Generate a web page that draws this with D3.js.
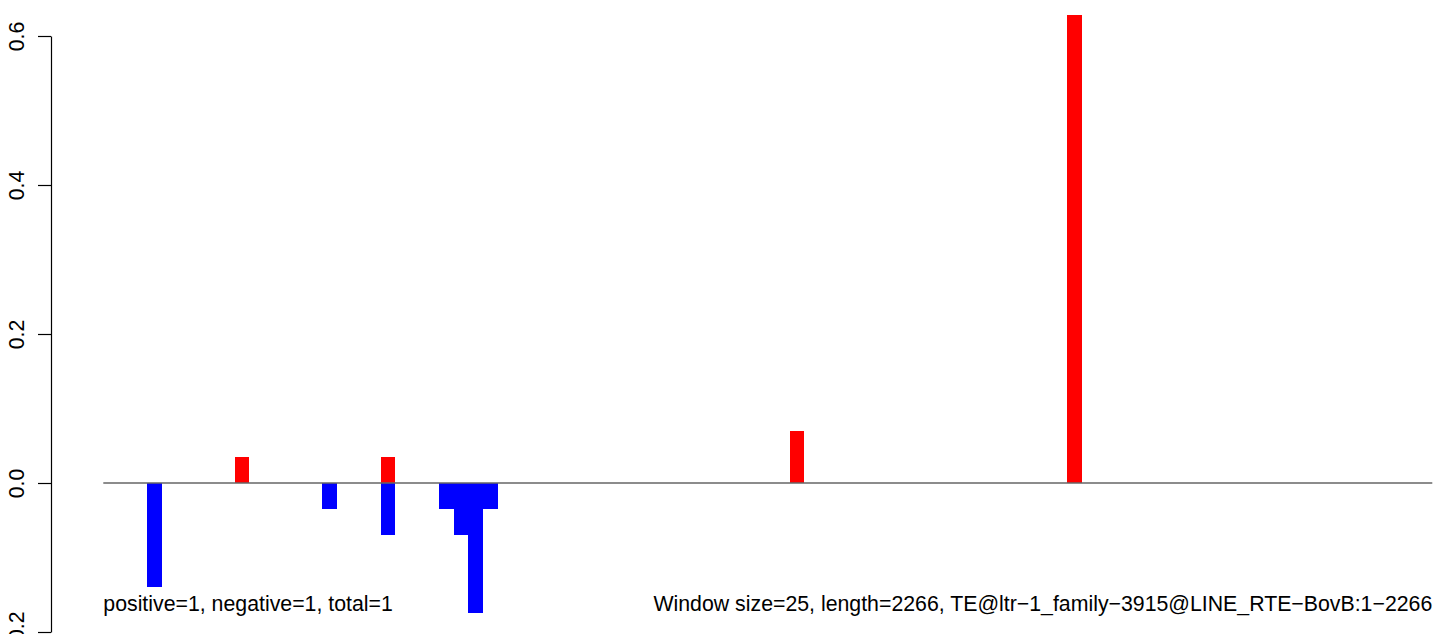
<!DOCTYPE html>
<html>
<head>
<meta charset="utf-8">
<script src="https://cdn.jsdelivr.net/npm/d3@7"></script>
<style>
  body { margin: 0; background: #fff; }
  svg { display: block; font-family: "Liberation Sans", Arial, sans-serif; }
</style>
</head>
<body>
<div class="chart"></div>
<script>
// window settings
const windowSize = 25
const seqLength = 2266
const windowCount = Math.ceil(seqLength / windowSize)

// positive windows (red) and negative windows (blue)
const positiveWindows = [9, 19, 47, 66]
const positiveValues = [0.035, 0.035, 0.07, 0.628]
const negativeWindows = [3, 15, 19, 23, 24, 25, 26]
const negativeValues = [-0.14, -0.035, -0.07, -0.035, -0.07, -0.175, -0.035]

const yTicks = [-0.2, 0.0, 0.2, 0.4, 0.6]

const leftText = "positive=1, negative=1, total=1"
const rightText = "Window size=25, length=2266, TE@ltr\u22121_family\u22123915@LINE_RTE\u2212BovB:1\u22122266"

const width = 1444
const height = 634

const svg = d3.select(".chart")
    .append("svg")
    .attr("width", width)
    .attr("height", height)

const x = d3.scaleLinear()
    .domain([0, windowCount])
    .range([103.3, 1432.3])

const y = d3.scaleLinear()
    .domain([-0.2, 0.6])
    .range([632, 36])

const pos = positiveWindows.map((w, i) => ({ w: w, v: positiveValues[i] }))
const neg = negativeWindows.map((w, i) => ({ w: w, v: negativeValues[i] }))

// bars
svg.selectAll(".pos")
    .data(pos)
    .enter().append("rect")
    .attr("class", "pos")
    .attr("x", d => x(d.w))
    .attr("width", d => x(d.w + 1) - x(d.w))
    .attr("y", d => y(d.v))
    .attr("height", d => y(0) - y(d.v))
    .style("fill", "#ff0000")
    .style("shape-rendering", "crispEdges")

svg.selectAll(".neg")
    .data(neg)
    .enter().append("rect")
    .attr("class", "neg")
    .attr("x", d => x(d.w))
    .attr("width", d => x(d.w + 1) - x(d.w))
    .attr("y", y(0))
    .attr("height", d => y(d.v) - y(0))
    .style("fill", "#0000ff")
    .style("shape-rendering", "crispEdges")

// zero line
svg.append("line")
    .attr("x1", x(0))
    .attr("x2", x(windowCount))
    .attr("y1", y(0))
    .attr("y2", y(0))
    .style("stroke", "#666")
    .style("stroke-width", 1.3)

// y axis, R style with vertical labels
const yAxis = d3.axisLeft(y)
    .tickValues(yTicks)
    .tickSize(13)
    .tickSizeOuter(0)
    .tickFormat(d3.format(".1f"))

svg.append("g")
    .attr("class", "y axis")
    .attr("transform", "translate(51,0)")
    .call(yAxis)
    .call(g => g.selectAll("line, path").style("stroke", "#000").style("stroke-width", 1.2))
    .selectAll("text")
    .attr("x", 0)
    .attr("y", 0)
    .attr("dy", 0)
    .attr("transform", "translate(-27,0) rotate(-90)")
    .style("text-anchor", "middle")
    .style("font-size", "21.3px")
    .style("fill", "#000")
    .style("font-family", "Liberation Sans, Arial, sans-serif")

// notes at the bottom
svg.append("text")
    .attr("x", x(0))
    .attr("y", 611)
    .style("font-size", "21.3px")
    .style("fill", "#000")
    .text(leftText)

svg.append("text")
    .attr("x", x(windowCount))
    .attr("y", 611)
    .style("text-anchor", "end")
    .style("font-size", "21.3px")
    .style("fill", "#000")
    .text(rightText)
</script>
</body>
</html>
